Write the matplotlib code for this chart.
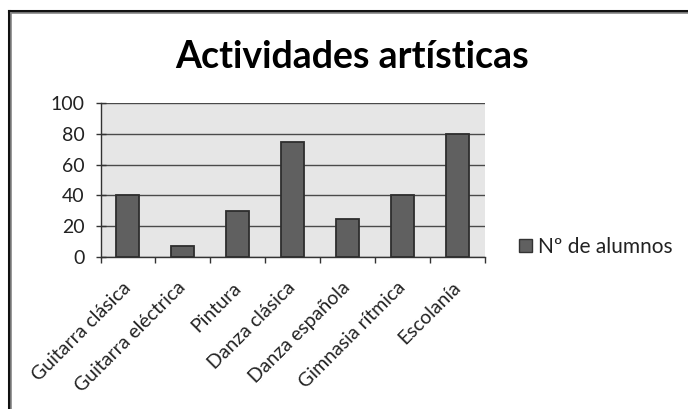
import matplotlib
matplotlib.use("Agg")
import matplotlib.pyplot as plt
from matplotlib.lines import Line2D
from matplotlib.patches import Patch
import numpy as np

categories = ["Guitarra clásica", "Guitarra eléctrica", "Pintura", "Danza clásica",
              "Danza española", "Gimnasia rítmica", "Escolanía"]
values = [40, 7, 30, 75, 25, 40, 80]
series_name = "Nº de alumnos"
title = "Actividades artísticas"
yticks = [0, 20, 40, 60, 80, 100]

plt.rcParams['font.family'] = ['Lato', 'DejaVu Sans']

W, H = 688, 409
fig = plt.figure(figsize=(W / 100, H / 100), dpi=100)
fig.patch.set_facecolor("white")

# axes in pixel coords
x0, x1 = 100.5, 485
y0, y1 = 103, 257
ax = fig.add_axes([x0 / W, 1 - y1 / H, (x1 - x0) / W, (y1 - y0) / H])
ax.set_facecolor("#e6e6e6")

x = np.arange(len(categories))
ax.bar(x, values, width=0.42, color="#606060", edgecolor="#2e2e2e", linewidth=1.3, zorder=3)
ax.set_xlim(-0.5, len(categories) - 0.5)
ax.set_ylim(0, 100)
ax.set_yticks(yticks)
ax.set_yticklabels([str(v) for v in yticks], fontsize=14, color="#222222")
ax.yaxis.grid(True, color="#4a4a4a", linewidth=1.0, zorder=1)
ax.set_axisbelow(True)

ax.set_xticks(x)
ax.set_xticklabels(categories, rotation=45, ha="right", va="center", rotation_mode="anchor",
                   fontsize=14, color="#222222")
ax.tick_params(axis="x", which="major", length=0, pad=20)
ax.set_xticks(np.arange(-0.5, len(categories)), minor=True)
ax.tick_params(axis="x", which="minor", length=4.5, width=1, color="#333333", direction="out")
ax.tick_params(axis="y", length=7, width=1, color="#333333", direction="inout", pad=8)

for s in ["top", "right"]:
    ax.spines[s].set_visible(False)
ax.spines["left"].set_color("#333333")
ax.spines["bottom"].set_color("#333333")
ax.spines["left"].set_linewidth(1)
ax.spines["bottom"].set_linewidth(1)

fig.text(352 / W, 1 - 68 / H, title, ha="center", va="baseline", fontsize=27,
         fontweight="bold", color="black")

handle = Patch(facecolor="#606060", edgecolor="#333333", linewidth=1)
fig.legend([handle], [series_name], loc="center left", bbox_to_anchor=(519 / W, 1 - 247 / H),
           frameon=False, fontsize=15, handlelength=0.6, handleheight=0.6, handletextpad=0.3,
           borderpad=0, borderaxespad=0, labelcolor="#222222")

# chart border (top and left)
fig.add_artist(Line2D([8.5 / W, 1], [1 - 10.5 / H, 1 - 10.5 / H], color="#111111", linewidth=2.2))
fig.add_artist(Line2D([8.5 / W, 8.5 / W], [0, 1 - 10.5 / H], color="#111111", linewidth=2.2))
fig.add_artist(Line2D([11 / W, 1], [1 - 13 / H, 1 - 13 / H], color="#888888", linewidth=1.2))
fig.add_artist(Line2D([11 / W, 11 / W], [0, 1 - 13 / H], color="#888888", linewidth=1.2))

fig.savefig("out.png", dpi=100)
